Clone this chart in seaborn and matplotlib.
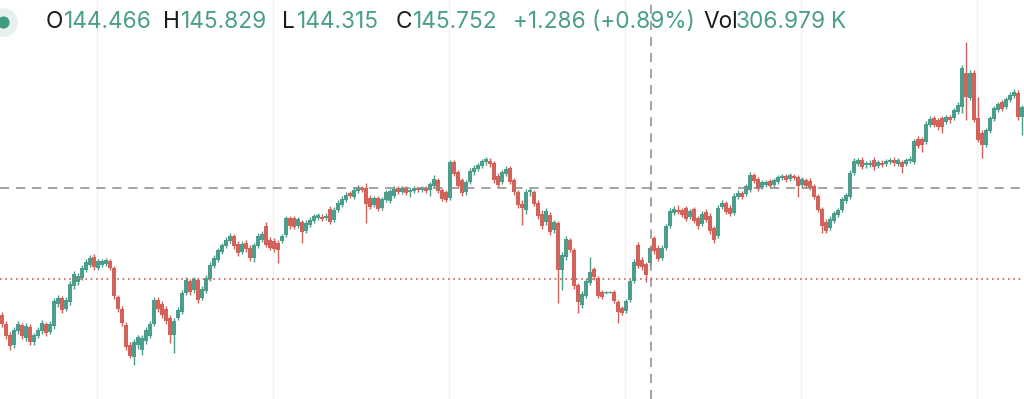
import matplotlib
matplotlib.use("Agg")
import matplotlib.pyplot as plt
from matplotlib.transforms import IdentityTransform
import numpy as np
import pandas as pd
import seaborn as sns

# prices are stored in hundredths above the base price
base = 142.0
tick = 0.01

opens_t = [85, 76, 65, 55, 69, 75, 62, 73, 58, 64,
           69, 76, 68, 74, 96, 102, 91, 98, 114, 118,
           122, 130, 135, 143, 132, 135, 136, 139, 132, 103,
           91, 75, 55, 43, 55, 50, 59, 64, 76, 100,
           96, 91, 82, 65, 82, 88, 107, 119, 110, 120,
           102, 109, 121, 134, 140, 148, 154, 159, 164, 156,
           148, 157, 152, 142, 154, 160, 174, 160, 159, 157,
           159, 165, 182, 182, 174, 178, 169, 175, 179, 182,
           183, 182, 191, 180, 190, 195, 200, 207, 203, 209,
           212, 212, 202, 195, 202, 192, 200, 199, 204, 212,
           208, 212, 208, 209, 212, 210, 212, 210, 214, 220,
           210, 208, 202, 238, 228, 220, 208, 218, 228, 231,
           234, 238, 239, 237, 224, 218, 226, 232, 220, 208,
           196, 190, 208, 208, 197, 186, 178, 185, 170, 177,
           130, 143, 160, 150, 115, 95, 104, 117, 131, 122,
           108, 107, 107, 108, 98, 92, 89, 100, 119, 155,
           140, 136, 137, 162, 152, 142, 152, 174, 187, 190,
           190, 192, 183, 191, 182, 176, 188, 184, 172, 164,
           193, 197, 192, 187, 203, 207, 206, 210, 225, 221,
           213, 215, 219, 215, 218, 222, 224, 221, 224, 223,
           215, 220, 219, 214, 204, 191, 178, 172, 179, 185,
           190, 199, 203, 227, 236, 240, 235, 235, 240, 234,
           237, 236, 238, 240, 236, 238, 236, 239, 238, 261,
           261, 258, 275, 282, 280, 282, 278, 283, 282, 288,
           293, 327, 302, 327, 282, 267, 255, 269, 281, 290,
           298, 293, 300, 304, 307, 283]

closes_t = [76, 64, 54, 70, 76, 64, 74, 58, 65, 70,
            77, 67, 76, 99, 102, 90, 100, 116, 126, 124,
            132, 138, 142, 133, 139, 139, 140, 132, 104, 91,
            77, 53, 44, 58, 63, 62, 70, 76, 100, 91,
            85, 79, 65, 79, 90, 107, 120, 108, 121, 100,
            111, 122, 135, 142, 150, 155, 160, 164, 154, 147,
            156, 151, 142, 155, 164, 166, 155, 152, 151, 150,
            164, 182, 174, 173, 181, 168, 177, 180, 184, 185,
            181, 184, 178, 190, 197, 201, 205, 204, 210, 213,
            210, 196, 193, 202, 191, 201, 208, 209, 211, 208,
            212, 207, 210, 212, 210, 212, 209, 216, 221, 209,
            201, 200, 238, 226, 214, 207, 218, 229, 232, 235,
            239, 241, 236, 220, 215, 228, 231, 218, 208, 195,
            192, 208, 210, 196, 184, 174, 189, 168, 178, 130,
            145, 161, 150, 114, 98, 106, 119, 128, 123, 104,
            103, 108, 108, 99, 88, 87, 99, 119, 138, 134,
            133, 125, 152, 149, 141, 152, 174, 189, 191, 188,
            185, 181, 189, 179, 174, 186, 180, 169, 160, 192,
            197, 188, 186, 204, 207, 203, 214, 225, 219, 211,
            218, 218, 214, 220, 223, 224, 220, 225, 222, 214,
            221, 214, 212, 203, 190, 174, 169, 181, 187, 190,
            201, 205, 227, 239, 240, 233, 237, 237, 233, 238,
            235, 239, 240, 237, 240, 233, 240, 241, 259, 254,
            255, 276, 281, 275, 273, 273, 283, 280, 290, 295,
            332, 303, 327, 280, 260, 255, 270, 282, 292, 296,
            291, 301, 305, 308, 283, 293]

highs_t = [88, 79, 68, 73, 79, 77, 77, 76, 67, 73,
           80, 78, 79, 102, 105, 104, 103, 119, 129, 127,
           135, 141, 145, 146, 141, 141, 142, 141, 134, 105,
           94, 78, 58, 61, 65, 65, 73, 79, 103, 103,
           99, 94, 85, 82, 93, 110, 123, 121, 123, 122,
           114, 125, 138, 145, 152, 157, 163, 167, 166, 159,
           159, 160, 155, 157, 167, 169, 178, 163, 162, 160,
           166, 184, 184, 184, 183, 180, 180, 183, 186, 187,
           186, 187, 194, 193, 200, 204, 208, 209, 213, 215,
           214, 217, 205, 204, 204, 203, 210, 211, 214, 214,
           214, 214, 212, 214, 213, 214, 214, 218, 225, 222,
           212, 210, 240, 240, 230, 222, 220, 232, 235, 237,
           241, 243, 242, 239, 227, 230, 234, 234, 222, 210,
           200, 211, 212, 210, 200, 190, 192, 188, 180, 179,
           148, 164, 162, 152, 117, 109, 122, 143, 133, 124,
           110, 109, 109, 110, 100, 94, 101, 121, 141, 158,
           143, 138, 154, 164, 155, 155, 176, 192, 194, 195,
           192, 194, 191, 193, 184, 189, 191, 187, 174, 195,
           200, 199, 195, 207, 210, 209, 216, 228, 227, 223,
           220, 220, 221, 222, 225, 226, 226, 227, 226, 225,
           223, 222, 222, 216, 206, 193, 181, 184, 189, 192,
           203, 207, 230, 242, 242, 243, 239, 240, 243, 240,
           240, 241, 242, 243, 242, 240, 242, 244, 261, 264,
           263, 279, 284, 284, 282, 284, 285, 285, 292, 298,
           335, 358, 330, 330, 303, 270, 272, 284, 294, 298,
           300, 303, 308, 311, 310, 295]

lows_t = [73, 61, 50, 52, 66, 61, 59, 55, 55, 62,
          66, 64, 66, 71, 93, 87, 89, 95, 111, 115,
          120, 128, 133, 130, 130, 133, 134, 130, 101, 88,
          74, 50, 42, 35, 51, 45, 56, 62, 74, 88,
          82, 76, 57, 47, 80, 86, 105, 105, 107, 97,
          100, 107, 119, 132, 138, 146, 152, 157, 151, 144,
          146, 148, 139, 138, 152, 158, 153, 150, 148, 137,
          157, 163, 171, 171, 172, 157, 167, 173, 177, 180,
          179, 180, 176, 178, 188, 193, 198, 202, 201, 207,
          208, 177, 191, 193, 189, 190, 198, 197, 202, 206,
          206, 205, 203, 207, 208, 208, 207, 204, 212, 207,
          199, 198, 200, 224, 212, 204, 205, 216, 225, 229,
          232, 235, 233, 217, 213, 216, 224, 216, 205, 192,
          175, 186, 204, 194, 181, 171, 175, 165, 167, 97,
          110, 140, 148, 111, 87, 92, 102, 115, 120, 102,
          101, 106, 107, 97, 77, 85, 87, 98, 117, 132,
          130, 118, 134, 146, 139, 140, 150, 172, 185, 186,
          183, 179, 181, 177, 171, 174, 178, 166, 157, 162,
          191, 186, 184, 185, 201, 201, 204, 208, 217, 209,
          211, 213, 212, 213, 216, 220, 218, 219, 220, 203,
          212, 212, 210, 201, 188, 167, 167, 170, 177, 183,
          188, 197, 201, 225, 234, 231, 232, 233, 230, 232,
          233, 234, 236, 234, 234, 227, 234, 237, 236, 252,
          248, 256, 273, 273, 270, 267, 276, 277, 280, 286,
          287, 280, 300, 278, 258, 242, 253, 267, 279, 288,
          289, 291, 298, 302, 280, 265]

# header readout
header_labels = ["O", "H", "L", "C"]
header_values = ["144.466", "145.829", "144.315", "145.752"]
change_text = "+1.286 (+0.89%)"
vol_value = "306.979"

crosshair_bar = 162
crosshair_price = 144.12
last_close_line = 143.21

GREEN = "#4a9e8b"
RED = "#d2625a"

df = pd.DataFrame({
    "open": base + np.array(opens_t) * tick,
    "high": base + np.array(highs_t) * tick,
    "low": base + np.array(lows_t) * tick,
    "close": base + np.array(closes_t) * tick,
})
df["bar"] = np.arange(len(df))
df["up"] = df["close"] >= df["open"]
colors = np.where(df["up"], GREEN, RED)

sns.set_theme(style="white")
plt.rcParams["font.family"] = ["Inter", "DejaVu Sans"]

fig = plt.figure(figsize=(10.24, 3.99), dpi=100)
ax = fig.add_axes([0, 0, 1, 1])
ax.set_xlim(-0.5, len(df) - 0.5)
ax.set_ylim(base + 0.01, base + 4.0)
ax.axis("off")

# faint vertical grid
for gx in np.arange(23.75, len(df), 44):
    ax.axvline(gx, color="#f0f0f0", lw=1.0, zorder=0)

# wicks and bodies
ax.vlines(df["bar"], df["low"], df["high"], colors=colors, lw=1.0, zorder=2)
body = (df["close"] - df["open"]).abs().clip(lower=0.015)
ax.bar(df["bar"], body, bottom=df[["open", "close"]].min(axis=1),
       width=0.82, color=colors, linewidth=0, zorder=3)

# crosshair and price line
ax.axhline(crosshair_price, color="#8a8a8a", lw=1.1, ls=(0, (6, 4.5)), zorder=4)
ax.axvline(crosshair_bar + 0.25, color="#8a8a8a", lw=1.1, ls=(0, (6, 4.5)), zorder=4)
ax.axhline(last_close_line, color=RED, lw=1.2, ls=(0, (1, 2.2)), zorder=4)

# status dot
ident = IdentityTransform()
ax.scatter([3], [399 - 22], s=380, color="#e6f0ed", transform=ident, zorder=5, clip_on=False)
ax.scatter([3], [399 - 22], s=60, color="#3f9a80", transform=ident, zorder=6, clip_on=False)

# header text
fs = 16.3
ty = 1 - 22 / 399
label_x = [46, 163, 282, 396]
value_x = [64, 181, 297, 413]
for lab, val, lx, vx in zip(header_labels, header_values, label_x, value_x):
    fig.text(lx / 1024, ty, lab, color="#1b1b1f", fontsize=fs, va="center")
    fig.text(vx / 1024, ty, val, color=GREEN, fontsize=fs, va="center")
fig.text(513 / 1024, ty, change_text, color=GREEN, fontsize=fs, va="center")
fig.text(703 / 1024, ty, "Vol", color="#1b1b1f", fontsize=fs, va="center")
fig.text(736 / 1024, ty, vol_value, color=GREEN, fontsize=fs, va="center")
fig.text(831 / 1024, ty, "K", color=GREEN, fontsize=fs, va="center")

fig.savefig("out.png", dpi=100, facecolor="white")
